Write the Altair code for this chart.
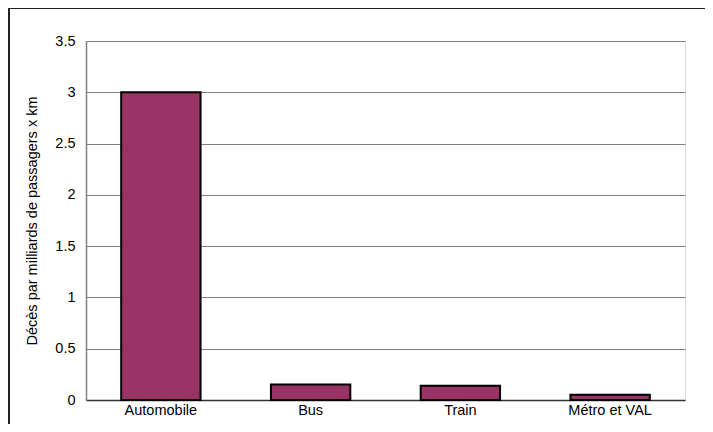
import altair as alt
import pandas as pd

categories = ["Automobile", "Bus", "Train", "Métro et VAL"]
values = [3.0, 0.15, 0.14, 0.05]
y_ticks = [0, 0.5, 1, 1.5, 2, 2.5, 3, 3.5]

df = pd.DataFrame({"mode": categories, "value": values})

FONT = "Liberation Sans"
FS = 14.5

bars = alt.Chart(df).mark_bar(
    fill="#993366", stroke="#000000", strokeWidth=2
).encode(
    x=alt.X("mode:N", sort=categories, title=None,
            scale=alt.Scale(paddingInner=0.47, paddingOuter=0.235),
            axis=alt.Axis(labelAngle=0, ticks=False, labelPadding=3,
                          domainColor="#333333", domainWidth=1.5,
                          labelFont=FONT, labelFontSize=FS,
                          labelColor="#000000")),
    y=alt.Y("value:Q", title="Décès par milliards de passagers x km",
            scale=alt.Scale(domain=[0, 3.5], nice=False),
            axis=alt.Axis(values=y_ticks, format="~g", ticks=False,
                          labelPadding=11, domainColor="#808080",
                          domainWidth=1.5, gridColor="#808080",
                          gridWidth=1, gridOpacity=1,
                          labelFont=FONT, labelFontSize=FS,
                          labelColor="#000000",
                          titleFont=FONT, titleFontSize=FS,
                          titleFontWeight="normal", titleColor="#000000",
                          titlePadding=15)),
)

frame = alt.Chart(df).mark_rect(
    fill=None, stroke="#222222", strokeWidth=1.5
).encode(
    x=alt.value(-77), x2=alt.value(640),
    y=alt.value(-33), y2=alt.value(430),
)

chart = alt.layer(frame, bars).properties(
    width=599, height=359,
    autosize=alt.AutoSizeParams(type="none"),
    padding={"left": 78, "top": 33, "right": 20, "bottom": 24},
).configure_view(
    stroke="#808080", strokeWidth=2
).configure(background="#ffffff")

chart.save("out.html", embed_options={"renderer": "svg", "actions": False})
